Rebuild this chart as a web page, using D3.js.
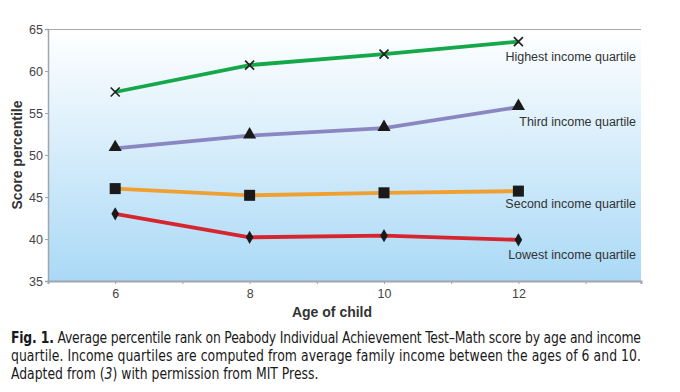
<!DOCTYPE html>
<html><head><meta charset="utf-8">
<script src="https://cdn.jsdelivr.net/npm/d3@7"></script>
<style>
body{margin:0;background:#fff;}
svg{display:block;}
</style></head>
<body><svg id="c" width="680" height="392"></svg>
<script>
const ages = [6, 8, 10, 12];
const highest = [57.5, 60.7, 62.0, 63.5];
const third = [50.8, 52.3, 53.2, 55.7];
const second = [46.0, 45.2, 45.5, 45.7];
const lowest = [43.0, 40.2, 40.4, 39.9];
const seriesNames = ["Highest income quartile", "Third income quartile", "Second income quartile", "Lowest income quartile"];
const yTicks = [35, 40, 45, 50, 55, 60, 65];
const xTickLabels = [6, 8, 10, 12];
const xMinorTicks = [5, 6, 7, 8, 9, 10, 11, 12, 13];
const captionLines = [
  ["Fig. 1.", " Average percentile rank on Peabody Individual Achievement Test\u2013Math score by age and income"],
  ["", "quartile. Income quartiles are computed from average family income between the ages of 6 and 10."],
  ["", "Adapted from (", "3", ") with permission from MIT Press."]
];

const svg = d3.select("#c");
const L = 48, R = 641, T = 29, B = 281;
const x = d3.scaleLinear().domain([5, 5 + (R - L) / 67.2]).range([L, R]);
const y = d3.scaleLinear().domain([35, 65]).range([B, T]);
const FONT = "'Liberation Sans', Arial, Helvetica, sans-serif";

const defs = svg.append("defs");
const g = defs.append("linearGradient").attr("id", "bg").attr("x1", 0).attr("y1", 0).attr("x2", 0).attr("y2", 1);
g.append("stop").attr("offset", "0%").attr("stop-color", "#ffffff");
g.append("stop").attr("offset", "100%").attr("stop-color", "#aad9f6");
svg.append("rect").attr("x", L).attr("y", T).attr("width", R - L).attr("height", B - T).attr("fill", "url(#bg)");

svg.append("line").attr("x1", L).attr("x2", R).attr("y1", T + 0.5).attr("y2", T + 0.5).attr("stroke", "#a8a8a8").attr("stroke-width", 1);

const yAxis = svg.append("g").attr("transform", `translate(${L},0)`)
  .call(d3.axisLeft(y).tickValues(yTicks).tickSize(3).tickFormat(d3.format("d")));
yAxis.select(".domain").attr("stroke", "#a0a6ad").attr("stroke-width", 1.5);
yAxis.selectAll(".tick line").attr("stroke", "#a0a6ad");
yAxis.selectAll("text").attr("font-family", FONT).attr("font-size", 12.5).attr("fill", "#444").attr("x", -5);

const xAxis = svg.append("g").attr("transform", `translate(0,${B})`)
  .call(d3.axisBottom(x).tickValues(xMinorTicks).tickSize(3).tickFormat(d => xTickLabels.includes(d) ? d : ""));
xAxis.select(".domain").attr("stroke", "#a0a6ad").attr("stroke-width", 2);
xAxis.selectAll(".tick line").attr("stroke", "#a0a6ad");
xAxis.selectAll("text").attr("font-family", FONT).attr("font-size", 12.5).attr("fill", "#444").attr("dy", "0.9em");

svg.append("text").attr("transform", `translate(22,${(T + B) / 2}) rotate(-90)`).attr("text-anchor", "middle")
  .attr("font-family", FONT).attr("font-weight", "bold").attr("font-size", 14).attr("fill", "#333").text("Score percentile");
svg.append("text").attr("x", 332).attr("y", 317).attr("text-anchor", "middle")
  .attr("font-family", FONT).attr("font-weight", "bold").attr("font-size", 14).attr("fill", "#333").text("Age of child");

const series = [
  {name: seriesNames[0], vals: highest, color: "#15a84a", marker: "x", labelDy: 19},
  {name: seriesNames[1], vals: third, color: "#8a86c2", marker: "tri", labelDy: 19},
  {name: seriesNames[2], vals: second, color: "#f0a030", marker: "sq", labelDy: 17},
  {name: seriesNames[3], vals: lowest, color: "#d6252e", marker: "dia", labelDy: 19}
];
const line = d3.line().x((d, i) => x(ages[i])).y(d => y(d));

series.forEach(s => {
  svg.append("path").datum(s.vals).attr("d", line).attr("fill", "none").attr("stroke", s.color).attr("stroke-width", 3.8);
  const m = svg.append("g");
  s.vals.forEach((v, i) => {
    const cx = x(ages[i]), cy = y(v);
    if (s.marker === "x") {
      m.append("path").attr("d", `M${cx-4.5},${cy-4.5}L${cx+4.5},${cy+4.5}M${cx-4.5},${cy+4.5}L${cx+4.5},${cy-4.5}`).attr("stroke", "#222").attr("stroke-width", 1.7);
    } else if (s.marker === "tri") {
      m.append("path").attr("d", d3.symbol(d3.symbolTriangle, 75)()).attr("transform", `translate(${cx},${cy-1})`).attr("fill", "#1a1a1a");
    } else if (s.marker === "sq") {
      m.append("rect").attr("x", cx - 5.5).attr("y", cy - 5.5).attr("width", 11).attr("height", 11).attr("fill", "#1a1a1a");
    } else {
      m.append("path").attr("d", d3.symbol(d3.symbolDiamond, 50)()).attr("transform", `translate(${cx},${cy})`).attr("fill", "#1a1a1a");
    }
  });
  const last = s.vals[s.vals.length - 1];
  svg.append("text").attr("x", 636).attr("y", y(last) + s.labelDy).attr("text-anchor", "end")
    .attr("font-family", FONT).attr("font-size", 12.5).attr("fill", "#333").text(s.name);
});

// caption (condensed face, horizontally squeezed)
const capFont = "'Liberation Sans Narrow', 'Arial Narrow', 'DejaVu Sans Condensed', sans-serif";
const sx = 0.92;
const cap = svg.append("g").attr("transform", `translate(11,0) scale(${sx},1)`);
captionLines.forEach((parts, li) => {
  const t = cap.append("text").attr("x", 0).attr("y", 343 + li * 18)
    .attr("font-family", capFont).attr("font-size", 15).attr("fill", "#1a1a1a");
  parts.forEach((p, pi) => {
    if (!p) return;
    const ts = t.append("tspan").text(p);
    if (li === 0 && pi === 0) ts.attr("font-weight", "bold");
    if (li === 2 && pi === 2) ts.attr("font-style", "italic");
  });
  if (li < 2) t.attr("textLength", 630 / sx).attr("lengthAdjust", "spacing");
});
</script></body></html>
